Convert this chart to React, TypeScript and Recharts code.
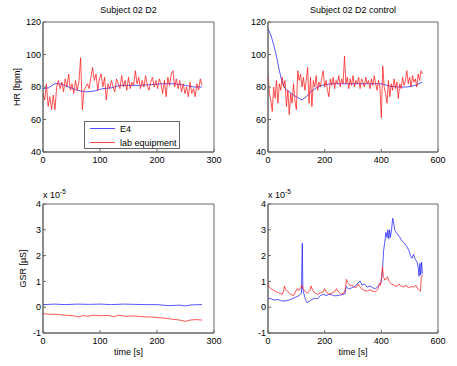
import React from 'react';
import { LineChart, Line, XAxis, YAxis, Legend, ReferenceArea } from 'recharts';

const FONT = '"Liberation Sans", Arial, Helvetica, sans-serif';
const AXIS = '#666';
const BLUE = '#1f1fff';
const RED = '#ff1a1a';

// ---------- Data ----------
const hrTicksY = [40, 60, 80, 100, 120];
const gsrTicksY = [-1, 0, 1, 2, 3, 4];
const ticksXLeft = [0, 100, 200, 300];
const ticksXRight = [0, 200, 400, 600];

// Subject 02 D2 — lab equipment HR (sampled every 3 s)
const labStepLeft = 3;
const hrLabLeft = [
  76, 72, 82, 68, 74, 66, 75, 66, 80, 84, 79, 83, 77, 85, 80, 88, 78, 82, 76, 84,
  78, 83, 98, 66, 78, 80, 82, 79, 86, 92, 84, 88, 78, 85, 88, 80, 86, 72, 82, 79,
  84, 80, 77, 85, 82, 79, 87, 80, 84, 78, 86, 79, 83, 81, 90, 82, 86, 79, 84, 80,
  87, 81, 78, 83, 86, 80, 84, 79, 85, 82, 76, 84, 74, 86, 81, 88, 90, 80, 85, 79,
  84, 77, 82, 76, 80, 74, 83, 76, 79, 74, 82, 78, 85, 81,
];
// Subject 02 D2 — E4 HR
const hrE4LeftT = [0, 10, 20, 30, 45, 60, 75, 90, 105, 120, 135, 150, 170, 190, 210, 230, 250, 265, 279];
const hrE4LeftV = [79, 79.5, 82, 82, 80, 78, 77, 77.5, 79, 79.5, 81, 81, 81, 81.5, 82, 82, 81, 80, 80];

// Subject 02 D2 control — lab equipment HR (sampled every 5 s)
const labStepRight = 5;
const hrLabRight = [
  88, 76, 72, 65, 80, 73, 84, 70, 82, 78, 86, 80, 84, 68, 78, 63, 76, 70, 82, 72,
  66, 90, 84, 88, 80, 86, 78, 84, 92, 70, 86, 68, 84, 80, 87, 78, 83, 80, 86, 90,
  80, 84, 78, 74, 85, 81, 86, 79, 84, 82, 87, 80, 85, 82, 99, 82, 86, 79, 85, 81,
  87, 80, 84, 82, 86, 79, 85, 83, 80, 86, 82, 84, 79, 85, 81, 87, 82, 78, 84, 80,
  61, 93, 80, 76, 70, 84, 74, 82, 78, 85, 79, 83, 73, 82, 79, 86, 81, 84, 90, 82,
  86, 80, 87, 83, 85, 80, 88, 84, 90, 88,
];
// Subject 02 D2 control — E4 HR
const hrE4RightT = [0, 10, 20, 30, 40, 50, 60, 75, 90, 105, 120, 135, 150, 170, 190, 220, 260, 300, 350, 400, 430, 460, 490, 520, 545];
const hrE4RightV = [116, 112, 106, 99, 90, 83, 79, 77, 75, 73.5, 72, 74, 77, 79.5, 81, 82, 82, 82, 82, 82, 80.5, 80, 80, 81, 83];

// GSR (x 10^-5) — Subject 02 D2
const gsrE4LeftT = [0, 20, 40, 60, 80, 100, 120, 140, 160, 180, 200, 220, 240, 250, 260, 279];
const gsrE4LeftV = [0.1, 0.12, 0.1, 0.12, 0.11, 0.12, 0.1, 0.12, 0.11, 0.1, 0.1, 0.06, 0.08, 0.05, 0.09, 0.1];
const gsrLabLeftT = [0, 10, 25, 40, 55, 63, 70, 78, 90, 100, 115, 125, 132, 145, 160, 175, 190, 205, 215, 225, 240, 250, 258, 268, 279];
const gsrLabLeftV = [-0.25, -0.27, -0.28, -0.31, -0.34, -0.38, -0.32, -0.35, -0.31, -0.33, -0.32, -0.37, -0.31, -0.35, -0.34, -0.37, -0.38, -0.41, -0.43, -0.46, -0.5, -0.55, -0.5, -0.48, -0.5];

// GSR (x 10^-5) — Subject 02 D2 control
const gsrE4RightT = [
  0, 8, 15, 25, 35, 45, 60, 75, 90, 100, 110, 118, 121, 123, 126, 132, 137, 145, 155, 165,
  175, 185, 195, 205, 215, 225, 235, 245, 255, 265, 272, 276, 285, 295, 305, 315, 325, 332, 340, 350,
  360, 370, 380, 388, 394, 400, 404, 408, 412, 416, 420, 423, 426, 429, 432, 436, 440, 443, 447, 455,
  463, 471, 480, 490, 497, 503, 508, 514, 520, 526, 530, 533, 536, 539, 542, 545,
];
const gsrE4RightV = [
  0.32, 0.35, 0.3, 0.28, 0.3, 0.25, 0.24, 0.28, 0.35, 0.4, 0.45, 0.55, 2.48, 0.7, 0.55, 0.3, 0.18, 0.22, 0.3, 0.35,
  0.32, 0.45, 0.5, 0.45, 0.5, 0.48, 0.44, 0.45, 0.47, 0.5, 0.52, 0.8, 0.7, 0.75, 0.8, 0.9, 1.02, 0.85, 0.9, 0.78,
  0.82, 0.75, 0.72, 0.8, 0.88, 1.0, 1.4, 2.2, 2.5, 2.9, 2.7, 3.0, 2.65, 3.0, 2.7, 3.0, 3.45, 3.3, 3.0, 2.85,
  2.75, 2.6, 2.5, 2.35, 2.2, 2.0, 1.9, 2.05, 1.85, 1.75, 1.55, 1.2, 1.7, 1.25, 1.75, 1.3,
];
const gsrLabRightT = [
  0, 3, 10, 20, 30, 40, 50, 55, 58, 62, 70, 80, 90, 97, 103, 108, 115, 120, 124, 130,
  140, 148, 152, 158, 165, 175, 185, 195, 200, 205, 215, 225, 235, 242, 248, 258, 268, 273, 277, 282,
  290, 300, 310, 318, 323, 332, 340, 350, 360, 370, 380, 388, 393, 397, 401, 404, 407, 412, 418, 422,
  427, 435, 445, 455, 462, 468, 478, 488, 495, 505, 515, 522, 528, 535, 538, 541, 545,
];
const gsrLabRightV = [
  1.02, 0.8, 0.72, 0.65, 0.6, 0.55, 0.5, 0.62, 0.82, 0.7, 0.6, 0.5, 0.45, 0.6, 0.72, 0.65, 0.75, 0.85, 0.72, 0.62,
  0.55, 0.65, 0.82, 0.65, 0.55, 0.5, 0.55, 0.6, 0.72, 0.6, 0.5, 0.55, 0.6, 0.72, 0.6, 0.5, 0.55, 0.7, 1.08, 0.95,
  0.85, 0.82, 0.75, 0.9, 0.8, 0.7, 0.65, 0.62, 0.68, 0.62, 0.6, 0.7, 0.92, 0.85, 1.2, 1.55, 1.2, 1.05, 1.1, 1.18,
  1.0, 0.9, 0.85, 0.8, 0.9, 0.82, 0.78, 0.85, 0.75, 0.8, 0.78, 0.85, 0.72, 0.65, 0.62, 1.15, 1.25,
];

// ---------- helpers ----------
type Pt = { t: number; v: number };
const pair = (ts: number[], vs: number[]): Pt[] => ts.map((t, i) => ({ t, v: vs[i] }));
const sampled = (step: number, vs: number[]): Pt[] => vs.map((v, i) => ({ t: i * step, v }));

interface SeriesDef { name: string; color: string; data: Pt[] }

const tickStyle = { fontSize: 9, fill: '#000', fontFamily: FONT };

const renderLegend = (props: any) => {
  const items: any[] = props && props.payload ? props.payload : [];
  return (
    <svg width={96} height={28} style={{ display: 'block' }}>
      <rect x={0.5} y={0.5} width={95} height={27} fill="#fff" stroke={AXIS} strokeWidth={1} />
      {items.map((it, i) => (
        <g key={i}>
          <line x1={6} x2={31} y1={7.5 + 14 * i} y2={7.5 + 14 * i} stroke={it.color} strokeWidth={0.8} />
          <text x={36} y={10.5 + 14 * i} fontSize={9} fontFamily={FONT} fill="#000">{it.value}</text>
        </g>
      ))}
    </svg>
  );
};

interface PanelProps {
  left: number; top: number; width: number; height: number;
  margin: { top: number; right: number; bottom: number; left: number };
  yAxisWidth: number; xAxisHeight: number;
  xDomain: [number, number]; xTicks: number[];
  yDomain: [number, number]; yTicks: number[];
  series: SeriesDef[];
  title?: string; yLabel?: string; yLabelX?: number; xLabel?: string;
  exponent?: boolean; legend?: boolean;
}

function Panel(p: PanelProps) {
  const plotLeft = p.margin.left + p.yAxisWidth;
  const plotRight = p.width - p.margin.right;
  const plotTop = p.margin.top;
  const plotBottom = p.height - p.margin.bottom - p.xAxisHeight;
  const cx = (plotLeft + plotRight) / 2;
  const cy = (plotTop + plotBottom) / 2;

  const xLab = () => (
    <g>
      {p.title && (
        <text x={cx} y={plotTop - 9} textAnchor="middle" fontSize={9} fontFamily={FONT} fill="#000">{p.title}</text>
      )}
      {p.exponent && (
        <text x={plotLeft} y={plotTop - 6} fontSize={9} fontFamily={FONT} fill="#000">
          x 10<tspan dy={-4} fontSize={6.5}>-5</tspan>
        </text>
      )}
      {p.xLabel && (
        <text x={cx} y={plotBottom + 22} textAnchor="middle" fontSize={9} fontFamily={FONT} fill="#000">{p.xLabel}</text>
      )}
    </g>
  );

  const yLab = p.yLabel
    ? () => (
        <text
          x={p.yLabelX}
          y={cy}
          transform={`rotate(-90 ${p.yLabelX} ${cy})`}
          textAnchor="middle"
          fontSize={9}
          fontFamily={FONT}
          fill="#000"
        >
          {p.yLabel}
        </text>
      )
    : undefined;

  return (
    <div style={{ position: 'absolute', left: p.left, top: p.top }}>
      <LineChart width={p.width} height={p.height} margin={p.margin}>
        <XAxis
          xAxisId="b"
          type="number"
          dataKey="t"
          orientation="bottom"
          domain={p.xDomain}
          ticks={p.xTicks}
          allowDataOverflow
          interval={0}
          height={p.xAxisHeight}
          tickSize={-3}
          tickMargin={8}
          tick={tickStyle}
          stroke={AXIS}
          label={xLab}
        />
        <YAxis
          yAxisId="l"
          type="number"
          orientation="left"
          domain={p.yDomain}
          ticks={p.yTicks}
          allowDataOverflow
          interval={0}
          width={p.yAxisWidth}
          tickSize={-3}
          tickMargin={5}
          tick={tickStyle}
          stroke={AXIS}
          label={yLab}
        />
        <ReferenceArea
          xAxisId="b"
          yAxisId="l"
          x1={p.xDomain[0]}
          x2={p.xDomain[1]}
          y1={p.yDomain[0]}
          y2={p.yDomain[1]}
          fill="none"
          fillOpacity={0}
          stroke={AXIS}
          strokeWidth={1}
          ifOverflow="visible"
        />
        {p.series.map((s) => (
          <Line
            key={s.name}
            xAxisId="b"
            yAxisId="l"
            data={s.data}
            dataKey="v"
            name={s.name}
            stroke={s.color}
            strokeWidth={0.75}
            dot={false}
            activeDot={false}
            isAnimationActive={false}
          />
        ))}
        {p.legend && (
          <Legend
            layout="vertical"
            verticalAlign="middle"
            align="center"
            content={renderLegend}
            wrapperStyle={{ left: 84, top: 121, width: 96, height: 28 }}
          />
        )}
      </LineChart>
    </div>
  );
}

export default function App() {
  const topMargin = { top: 22, right: 14, bottom: 8, left: 0 };
  const topMarginR = { top: 22, right: 19, bottom: 8, left: 0 };
  const botMargin = { top: 24, right: 14, bottom: 3, left: 0 };
  const botMarginR = { top: 24, right: 19, bottom: 3, left: 0 };

  return (
    <div style={{ position: 'absolute', left: 0, top: 0, width: 457, height: 366, background: '#fff' }}>
      <Panel
        left={0} top={0} width={228} height={180}
        margin={topMargin} yAxisWidth={43} xAxisHeight={20}
        xDomain={[0, 300]} xTicks={ticksXLeft}
        yDomain={[40, 120]} yTicks={hrTicksY}
        title="Subject 02 D2" yLabel="HR [bpm]" yLabelX={20}
        legend
        series={[
          { name: 'E4', color: BLUE, data: pair(hrE4LeftT, hrE4LeftV) },
          { name: 'lab equipment', color: RED, data: sampled(labStepLeft, hrLabLeft) },
        ]}
      />
      <Panel
        left={228} top={0} width={229} height={180}
        margin={topMarginR} yAxisWidth={40} xAxisHeight={20}
        xDomain={[0, 600]} xTicks={ticksXRight}
        yDomain={[40, 120]} yTicks={hrTicksY}
        title="Subject 02 D2 control"
        series={[
          { name: 'E4', color: BLUE, data: pair(hrE4RightT, hrE4RightV) },
          { name: 'lab equipment', color: RED, data: sampled(labStepRight, hrLabRight) },
        ]}
      />
      <Panel
        left={0} top={180} width={228} height={186}
        margin={botMargin} yAxisWidth={43} xAxisHeight={30}
        xDomain={[0, 300]} xTicks={ticksXLeft}
        yDomain={[-1, 4]} yTicks={gsrTicksY}
        exponent yLabel="GSR [µS]" yLabelX={26} xLabel="time [s]"
        series={[
          { name: 'E4', color: BLUE, data: pair(gsrE4LeftT, gsrE4LeftV) },
          { name: 'lab equipment', color: RED, data: pair(gsrLabLeftT, gsrLabLeftV) },
        ]}
      />
      <Panel
        left={228} top={180} width={229} height={186}
        margin={botMarginR} yAxisWidth={40} xAxisHeight={30}
        xDomain={[0, 600]} xTicks={ticksXRight}
        yDomain={[-1, 4]} yTicks={gsrTicksY}
        exponent xLabel="time [s]"
        series={[
          { name: 'E4', color: BLUE, data: pair(gsrE4RightT, gsrE4RightV) },
          { name: 'lab equipment', color: RED, data: pair(gsrLabRightT, gsrLabRightV) },
        ]}
      />
    </div>
  );
}
